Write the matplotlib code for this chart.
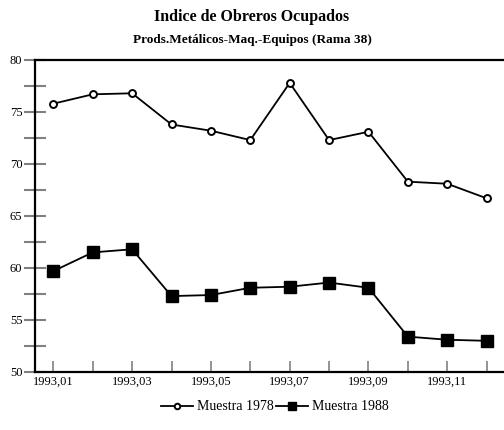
import matplotlib.pyplot as plt
import numpy as np
from matplotlib.ticker import MultipleLocator

plt.rcParams['font.family'] = ['Liberation Serif', 'DejaVu Serif']

# months of 1993
months = ['1993,01', '1993,02', '1993,03', '1993,04', '1993,05', '1993,06',
          '1993,07', '1993,08', '1993,09', '1993,10', '1993,11', '1993,12']
muestra_1978 = [75.8, 76.7, 76.8, 73.8, 73.2, 72.3, 77.8, 72.3, 73.1, 68.3, 68.1, 66.7]
muestra_1988 = [59.7, 61.5, 61.8, 57.3, 57.4, 58.1, 58.2, 58.6, 58.1, 53.4, 53.1, 53.0]

x = np.arange(len(months))

fig = plt.figure(figsize=(5.04, 4.30), dpi=100)
ax = fig.add_axes([35/504, 1-372/430, 1-35/504, 312/430])

ax.plot(x, muestra_1978, color='black', lw=1.3, marker='o', ms=5,
        mfc='white', mec='black', mew=1.4, label='Muestra 1978')
ax.plot(x, muestra_1988, color='black', lw=1.3, marker='s', ms=8,
        mfc='black', mec='black', label='Muestra 1988')

ax.set_xlim(-0.465, 11.44)
ax.set_ylim(50, 80)

ax.set_xticks(x)
ax.set_xticklabels([m if i % 2 == 0 else '' for i, m in enumerate(months)])
ax.yaxis.set_major_locator(MultipleLocator(5))
ax.yaxis.set_minor_locator(MultipleLocator(2.5))

ax.tick_params(axis='y', which='both', direction='inout', length=16, width=1.5,
               color='gray', labelsize=9, pad=1)
ax.tick_params(axis='x', direction='in', length=8, width=1.2, color='gray',
               labelsize=9, pad=3)

for s in ['top', 'left', 'bottom']:
    ax.spines[s].set_linewidth(1.6)
ax.spines['right'].set_visible(False)

fig.text(0.5, 1-17/430, 'Indice de Obreros Ocupados', ha='center', va='center',
         fontsize=11.5, fontweight='bold')
fig.text(0.5, 1-40/430, 'Prods.Metálicos-Maq.-Equipos (Rama 38)', ha='center',
         va='center', fontsize=9.5, fontweight='bold')

fig.legend(loc='center', bbox_to_anchor=(275/504, 1-407/430), ncol=2, frameon=False,
           fontsize=10, handlelength=2.3, handletextpad=0.3, columnspacing=0.2,
           markerscale=0.8)

fig.savefig('out.png', dpi=100)
